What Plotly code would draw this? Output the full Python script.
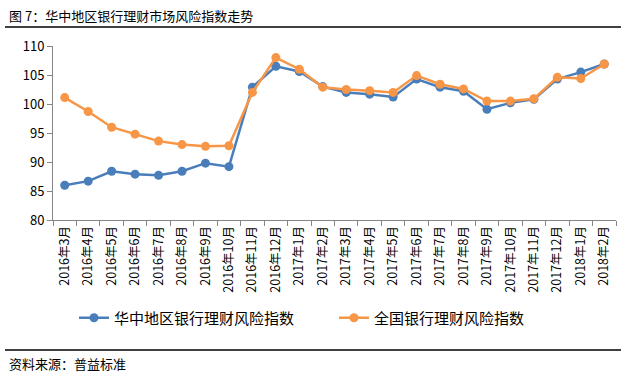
import plotly.graph_objects as go

categories = ["2016年3月", "2016年4月", "2016年5月", "2016年6月", "2016年7月", "2016年8月",
              "2016年9月", "2016年10月", "2016年11月", "2016年12月", "2017年1月", "2017年2月",
              "2017年3月", "2017年4月", "2017年5月", "2017年6月", "2017年7月", "2017年8月",
              "2017年9月", "2017年10月", "2017年11月", "2017年12月", "2018年1月", "2018年2月"]
central = [86.0, 86.7, 88.4, 87.9, 87.7, 88.4, 89.8, 89.2, 102.9, 106.5, 105.6, 103.0,
           102.0, 101.7, 101.2, 104.3, 102.9, 102.2, 99.1, 100.2, 100.8, 104.3, 105.5, 106.9]
national = [101.1, 98.7, 96.0, 94.8, 93.6, 93.0, 92.7, 92.8, 102.0, 108.0, 106.0, 102.9,
            102.5, 102.3, 102.0, 104.9, 103.4, 102.6, 100.5, 100.5, 100.9, 104.6, 104.4, 106.9]
yticks = [80, 85, 90, 95, 100, 105, 110]

FONT = "Noto Sans CJK SC"
BLUE = "#4A7EBB"
ORANGE = "#F79646"

fig = go.Figure()
fig.add_trace(go.Scatter(x=categories, y=central, mode="lines+markers", name="华中地区银行理财风险指数",
                         line=dict(color=BLUE, width=2.5), marker=dict(size=9, color=BLUE),
                         legend="legend"))
fig.add_trace(go.Scatter(x=categories, y=national, mode="lines+markers", name="全国银行理财风险指数",
                         line=dict(color=ORANGE, width=2.5), marker=dict(size=9, color=ORANGE),
                         legend="legend2"))

L, R, T, B = 53, 18, 46, 161
W, H = 634, 381
pw = W - L - R
ph = H - T - B

def px2x(x):
    return (x - L) / pw

def px2y(y):
    return (H - B - y) / ph

leg_common = dict(orientation="h", xanchor="left", yanchor="middle",
                  bgcolor="rgba(0,0,0,0)", font=dict(size=15, family=FONT),
                  itemwidth=30)

fig.update_layout(
    width=W, height=H,
    margin=dict(l=L, r=R, t=T, b=B, autoexpand=False),
    paper_bgcolor="white", plot_bgcolor="white",
    font=dict(family=FONT, color="#000000", size=12),
    showlegend=True,
    legend=dict(x=px2x(74), y=px2y(318), **leg_common),
    legend2=dict(x=px2x(334), y=px2y(318), **leg_common),
    xaxis=dict(type="category", showgrid=False, showline=True, linecolor="#868686", linewidth=1,
               ticks="outside", tickson="boundaries", ticklen=5, tickcolor="#868686",
               tickangle=-90, tickfont=dict(size=12.5, family=FONT), range=[-0.5, 23.5],
               automargin=False),
    yaxis=dict(range=[80, 110], tickvals=yticks, showgrid=False, showline=True, linecolor="#868686",
               linewidth=1, ticks="outside", ticklen=5, tickcolor="#868686",
               tickfont=dict(size=13, family=FONT), zeroline=False, automargin=False),
    shapes=[
        dict(type="line", xref="paper", yref="paper", x0=px2x(5), x1=px2x(621),
             y0=px2y(27), y1=px2y(27), line=dict(color="black", width=1.5)),
        dict(type="line", xref="paper", yref="paper", x0=px2x(5), x1=px2x(621),
             y0=px2y(350), y1=px2y(350), line=dict(color="black", width=1.5)),
    ],
    annotations=[
        dict(text="图 7：华中地区银行理财市场风险指数走势", xref="paper", yref="paper",
             x=px2x(7), y=px2y(15), xanchor="left", yanchor="middle", showarrow=False,
             font=dict(size=13, family=FONT, color="black")),
        dict(text="资料来源：普益标准", xref="paper", yref="paper",
             x=px2x(7), y=px2y(363), xanchor="left", yanchor="middle", showarrow=False,
             font=dict(size=13, family=FONT, color="black")),
    ],
)

fig.write_html("out.html", config={"displayModeBar": False},
               post_script="document.body.style.margin='0';document.body.style.overflow='hidden';")
